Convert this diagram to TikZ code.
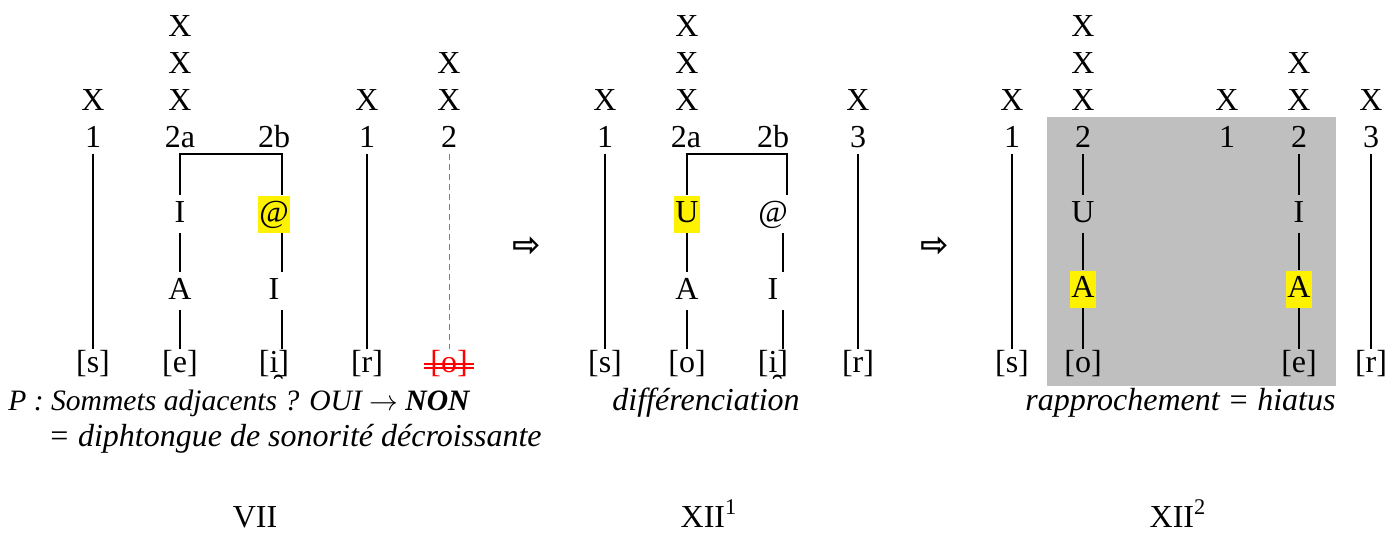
\documentclass[tikz,border=0pt]{standalone}
\usepackage{fontspec}
\setmainfont{Liberation Serif}
\newfontfamily\arrowfont{DejaVu Sans}
\usepackage{xcolor}
\usepackage{tikz}
\usetikzlibrary{positioning}

\tikzset{
  tier/.style={inner sep=0pt, text height=11.5pt, text depth=3.5pt},
  elt/.style={inner xsep=0.5pt, inner ysep=1.75pt, text height=11.5pt, text depth=3.5pt},
  hl/.style={elt, fill=yellow},
  assoc/.style={line width=1pt},
  deleted/.style={gray, densely dashed, line width=0.5pt},
  strike/.style={red, line width=0.9pt, shorten <=-3pt, shorten >=-3pt},
  caption/.style={anchor=base west, inner sep=0pt, font=\fontsize{16pt}{19pt}\selectfont\itshape},
  stage/.style={anchor=base, inner sep=0pt},
  implies/.style={inner sep=0pt, font=\arrowfont\bfseries\fontsize{17pt}{17pt}\selectfont}
}

\begin{document}
\begin{tikzpicture}[x=0.5pt, y=-0.5pt, font=\fontsize{16pt}{19pt}\selectfont]
  \useasboundingbox (0,0) rectangle (1400,532);
  \fill[gray!50] (1047,117) rectangle (1336,386);

  \node[tier] (sAx) at (93,102) {X};
  \node[tier] (sAn) at (93,139) {1};
  \node[tier] (sAseg) at (93,364) {[s]};
  \node[tier] (eAx3) at (180,28) {X};
  \node[tier] (eAx2) at (180,65) {X};
  \node[tier] (eAx1) at (180,102) {X};
  \node[tier] (eAn) at (180,139) {2a};
  \node[elt] (eAI) at (180,214) {I};
  \node[elt] (eAA) at (180,291) {A};
  \node[tier] (eAseg) at (180,364) {[e]};
  \node[tier] (iAn) at (274,139) {2b};
  \node[hl] (iAat) at (274,214) {@};
  \node[elt] (iAI) at (274,291) {I};
  \node[tier] (iAseg) at (274,364) {[i̯]};
  \node[tier] (rAx) at (367,102) {X};
  \node[tier] (rAn) at (367,139) {1};
  \node[tier] (rAseg) at (367,364) {[r]};
  \node[tier] (oAx2) at (449,65) {X};
  \node[tier] (oAx1) at (449,102) {X};
  \node[tier] (oAn) at (449,139) {2};
  \node[tier, text=red] (oAseg) at (449,364) {[o]};

  \draw[assoc] (sAn) -- (sAseg);
  \draw[assoc] (eAI.north) -- (eAI.north |- eAn.south) -| ([xshift=4pt]iAat.north);
  \draw[assoc] (eAI) -- (eAA);
  \draw[assoc] (eAA) -- (eAseg);
  \draw[assoc] ([xshift=4pt]iAat.south) -- ([xshift=4pt]iAI.north);
  \draw[assoc] ([xshift=4pt]iAI.south) -- ([xshift=4pt]iAseg.north);
  \draw[assoc] (rAn) -- (rAseg);
  \draw[deleted] (oAn) -- (oAseg);
  \draw[strike] (oAseg.west) -- (oAseg.east);
  \draw[strike] ([yshift=-2pt]oAseg.west) -- ([yshift=-2pt]oAseg.east);

  \node[implies] (thenA) at (527,247) {⇨};

  \node[tier] (sBx) at (605,102) {X};
  \node[tier] (sBn) at (605,139) {1};
  \node[tier] (sBseg) at (605,364) {[s]};
  \node[tier] (oBx3) at (687,28) {X};
  \node[tier] (oBx2) at (687,65) {X};
  \node[tier] (oBx1) at (687,102) {X};
  \node[tier] (oBn) at (686,139) {2a};
  \node[hl] (oBU) at (687,214) {U};
  \node[elt] (oBA) at (687,291) {A};
  \node[tier] (oBseg) at (687,364) {[o]};
  \node[tier] (iBn) at (773,139) {2b};
  \node[elt] (iBat) at (773,214) {@};
  \node[elt] (iBI) at (773,291) {I};
  \node[tier] (iBseg) at (773,364) {[i̯]};
  \node[tier] (rBx) at (858,102) {X};
  \node[tier] (rBn) at (858,139) {3};
  \node[tier] (rBseg) at (858,364) {[r]};

  \draw[assoc] (sBn) -- (sBseg);
  \draw[assoc] (oBU.north) -- (oBU.north |- oBn.south) -| ([xshift=7pt]iBat.north);
  \draw[assoc] (oBU) -- (oBA);
  \draw[assoc] (oBA) -- (oBseg);
  \draw[assoc] ([xshift=5pt]iBat.south) -- ([xshift=5pt]iBI.north);
  \draw[assoc] ([xshift=5pt]iBI.south) -- ([xshift=5pt]iBseg.north);
  \draw[assoc] (rBn) -- (rBseg);

  \node[implies] (thenB) at (935,247) {⇨};

  \node[tier] (sCx) at (1012,102) {X};
  \node[tier] (sCn) at (1012,139) {1};
  \node[tier] (sCseg) at (1012,364) {[s]};
  \node[tier] (oCx3) at (1083,28) {X};
  \node[tier] (oCx2) at (1083,65) {X};
  \node[tier] (oCx1) at (1083,102) {X};
  \node[tier] (oCn) at (1083,139) {2};
  \node[elt] (oCU) at (1083,214) {U};
  \node[hl] (oCA) at (1083,289) {A};
  \node[tier] (oCseg) at (1083,364) {[o]};
  \node[tier] (mCx) at (1227,102) {X};
  \node[tier] (mCn) at (1227,139) {1};
  \node[tier] (eCx2) at (1299,65) {X};
  \node[tier] (eCx1) at (1299,102) {X};
  \node[tier] (eCn) at (1299,139) {2};
  \node[elt] (eCI) at (1299,214) {I};
  \node[hl] (eCA) at (1299,289) {A};
  \node[tier] (eCseg) at (1299,364) {[e]};
  \node[tier] (rCx) at (1371,102) {X};
  \node[tier] (rCn) at (1371,139) {3};
  \node[tier] (rCseg) at (1371,364) {[r]};

  \draw[assoc] (sCn) -- (sCseg);
  \draw[assoc] (oCn) -- (oCU);
  \draw[assoc] (oCU) -- (oCA);
  \draw[assoc] (oCA) -- (oCseg);
  \draw[assoc] (eCn) -- (eCI);
  \draw[assoc] (eCI) -- (eCA);
  \draw[assoc] (eCA) -- (eCseg);
  \draw[assoc] (rCn) -- (rCseg);

  \node[caption, font=\fontsize{14.8pt}{18pt}\selectfont\itshape] (ruleA) at (8,410) {P : Sommets adjacents ? OUI $\rightarrow$ \textbf{NON}};
  \node[caption] (ruleB) at (48,446) {= diphtongue de sonorité décroissante};
  \node[caption] (diffB) at (612,410) {différenciation};
  \node[caption] (hiatC) at (1025,410) {rapprochement = hiatus};

  \node[stage] (stageA) at (255,527) {VII};
  \node[stage] (stageB) at (709,527) {XII\textsuperscript{1}};
  \node[stage] (stageC) at (1178,527) {XII\textsuperscript{2}};
\end{tikzpicture}
\end{document}
